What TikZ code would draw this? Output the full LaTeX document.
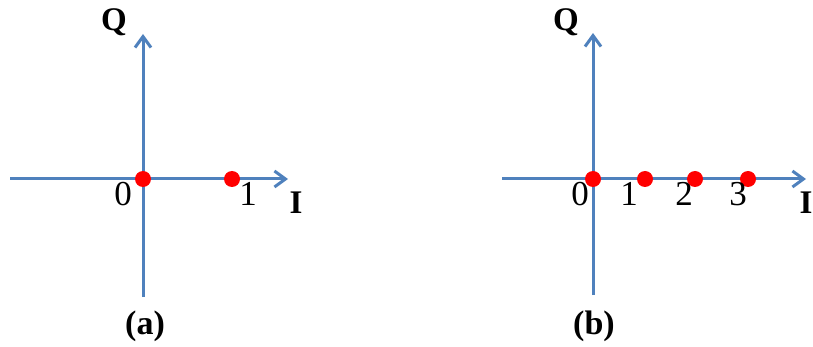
\documentclass[tikz,border=0pt]{standalone}
\usepackage{fontspec}
\setmainfont{Liberation Serif}
\usetikzlibrary{arrows.meta}
\definecolor{axisblue}{RGB}{79,129,189}

\begin{document}
\begin{tikzpicture}[x=1pt,y=-1pt,
    axis/.style={draw=axisblue,line width=3pt,-{Straight Barb[length=11pt,width=16pt,line width=3pt]}},
    pt/.style={circle,fill=red,inner sep=0pt,minimum size=16pt},
    num/.style={font=\fontsize{35}{35}\selectfont},
    axlbl/.style={font=\fontsize{33}{33}\selectfont\bfseries},
    subcap/.style={font=\fontsize{34}{34}\selectfont\bfseries}]
    \useasboundingbox (0,0) rectangle (813,347);

    % (a): constellation with two points
    \coordinate (a-w) at (10,179);
    \coordinate (a-e) at (288,179);
    \coordinate (a-s) at (143,297);
    \coordinate (a-n) at (143,34);
    \draw[axis] (a-w) -- (a-e);
    \draw[axis] (a-s) -- (a-n);
    \node[pt] (a-p0) at (143,179) {};
    \node[pt] (a-p1) at (232,179) {};
    \node[num] (a-l0) at (123,194) {0};
    \node[num] (a-l1) at (248,194) {1};
    \node[axlbl] (a-i) at (296,203) {I};
    \node[axlbl] (a-q) at (114,22) {Q};
    \node[subcap] (a-cap) at (145,326) {(a)};

    % (b): four points on the I axis
    \coordinate (b-w) at (502,179);
    \coordinate (b-e) at (806,179);
    \coordinate (b-s) at (593,295);
    \coordinate (b-n) at (593,33);
    \draw[axis] (b-w) -- (b-e);
    \draw[axis] (b-s) -- (b-n);
    \foreach \x/\i in {593/0,645/1,695/2,748/3}
      \node[pt] (b-p\i) at (\x,179) {};
    \foreach \x/\i in {580/0,629/1,684/2,738/3}
      \node[num] (b-l\i) at (\x,194) {\i};
    \node[axlbl] (b-i) at (806,203) {I};
    \node[axlbl] (b-q) at (566,22) {Q};
    \node[subcap] (b-cap) at (594,326) {(b)};
  \end{tikzpicture}
\end{document}
